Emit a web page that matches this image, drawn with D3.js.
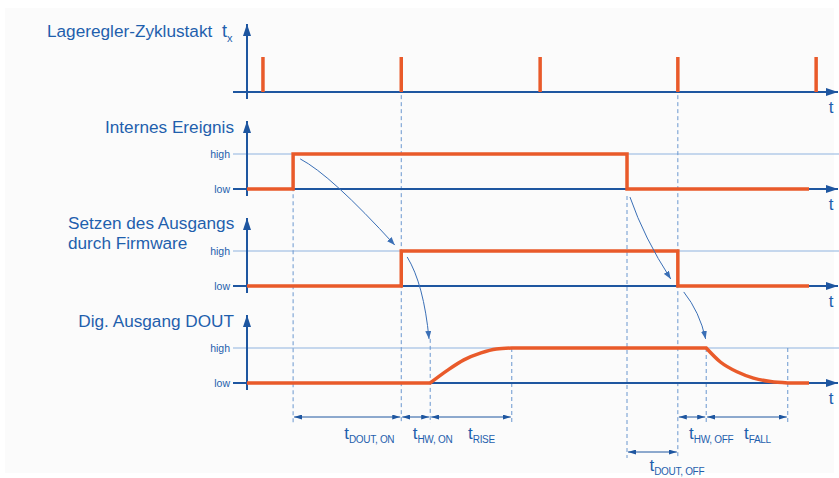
<!DOCTYPE html>
<html>
<head>
<meta charset="utf-8">
<script src="https://cdn.jsdelivr.net/npm/d3@7"></script>
<style>
  body { margin: 0; background: #fff; }
  svg { display: block; font-family: "Liberation Sans", Arial, sans-serif; }
</style>
</head>
<body>
<div id="chart"></div>
<script>
// time in arbitrary units (0..100), levels 0 = low, 1 = high
const clockPulses = [2.7, 26.1, 49.6, 72.9, 96.3];
const eventSignal = [[0, 0], [7.8, 0], [7.8, 1], [64.3, 1], [64.3, 0], [95.1, 0]];
const firmwareSignal = [[0, 0], [26.1, 0], [26.1, 1], [72.9, 1], [72.9, 0], [95.1, 0]];
const doutStart = [0, 0];
const doutRise = [[31.0, 0], [33.9, 0.36], [36.7, 0.66], [39.6, 0.86], [42.2, 0.97], [44.8, 1]];
const doutFall = [[77.7, 1], [80.1, 0.6], [82.9, 0.32], [85.7, 0.14], [88.6, 0.04], [91.5, 0]];
const doutEnd = [95.1, 0];

const panelTitles = [["Lageregler-Zyklustakt"], ["Internes Ereignis"],
  ["Setzen des Ausgangs", "durch Firmware"], ["Dig. Ausgang DOUT"]];
const levelLabels = ["low", "high"];

// dimension arrows: row 0 under DOUT, row 1 below that
const spans = [
  { from: 7.8, to: 26.1, row: 0, sub: "DOUT, ON" },
  { from: 26.1, to: 31.0, row: 0, sub: "HW, ON" },
  { from: 31.0, to: 44.8, row: 0, sub: "RISE" },
  { from: 72.9, to: 77.7, row: 0, sub: "HW, OFF" },
  { from: 77.7, to: 91.5, row: 0, sub: "FALL" },
  { from: 64.3, to: 72.9, row: 1, sub: "DOUT, OFF" }
];

// dashed guides: time, start [panel, level], end row
const guides = [
  { t: 7.8, start: [1, 0.85], row: 0 },
  { t: 26.1, start: [0, -0.09], row: 0 },
  { t: 31.0, start: [3, 1.26], row: 0 },
  { t: 44.8, start: [3, 1], row: 0 },
  { t: 64.3, start: [1, -0.2], row: 1 },
  { t: 72.9, start: [0, -0.09], row: 1 },
  { t: 77.7, start: [3, 1], row: 0 },
  { t: 91.5, start: [3, 1], row: 0 }
];

// cause -> effect arrows: [t, panel, level]
const causeArrows = [
  { a: [9.0, 1, 0.86], c: [14.2, 1, 0.4], b: [25.0, 2, 1.17] },
  { a: [27.1, 2, 0.83], c: [29.9, 2, 0.06], b: [30.8, 3, 1.26] },
  { a: [64.8, 1, -0.23], c: [67.2, 2, 1.37], b: [71.7, 2, 0.2] },
  { a: [73.9, 2, -0.17], c: [76.6, 3, 2.03], b: [77.6, 3, 1.26] }
];

const width = 839, height = 478;
const orange = "#e95a2a", axisBlue = "#1e56a0", textBlue = "#1f5fad",
  lightBlue = "#8fb4df", dashBlue = "#6a97cf", arrowBlue = "#3a6fb6";

const svg = d3.select("#chart").append("svg")
  .attr("width", width).attr("height", height);

const x = d3.scaleLinear().domain([0, 100]).range([247, 838]);
const lows = [92, 189, 286, 383];
const ys = lows.map(l => d3.scaleLinear().domain([0, 1]).range([l, l - 35]));
const rowY = [417, 452];
const py = p => ys[p[1]](p[2]);
const px = p => x(p[0]);

const defs = svg.append("defs");
function marker(id, w, h, color) {
  defs.append("marker")
    .attr("id", id)
    .attr("markerUnits", "userSpaceOnUse")
    .attr("viewBox", `0 0 ${w} ${h}`)
    .attr("markerWidth", w).attr("markerHeight", h)
    .attr("refX", w).attr("refY", h / 2)
    .attr("orient", "auto-start-reverse")
    .append("path")
    .attr("d", `M0,0L${w},${h / 2}L0,${h}Z`)
    .attr("fill", color);
}
marker("axisHead", 12, 8, axisBlue);
marker("dimHead", 8, 5, axisBlue);
marker("causeHead", 8, 6, arrowBlue);

svg.append("rect")
  .attr("x", 5).attr("y", 8).attr("width", 829).attr("height", 465)
  .attr("fill", "#fbfbfb");

// high reference lines
svg.selectAll(".high").data([1, 2, 3]).enter().append("line")
  .attr("x1", 233).attr("x2", width)
  .attr("y1", p => ys[p](1)).attr("y2", p => ys[p](1))
  .attr("stroke", lightBlue).attr("stroke-width", 1.2);

// dashed guides
svg.selectAll(".guide").data(guides).enter().append("line")
  .attr("x1", d => x(d.t)).attr("x2", d => x(d.t))
  .attr("y1", d => ys[d.start[0]](d.start[1]))
  .attr("y2", d => rowY[d.row] + 6)
  .attr("stroke", dashBlue).attr("stroke-width", 1)
  .attr("stroke-dasharray", "4,3");

// axes
lows.forEach((low, i) => {
  svg.append("line")
    .attr("x1", 233).attr("x2", x(100)).attr("y1", low).attr("y2", low)
    .attr("stroke", axisBlue).attr("stroke-width", 2)
    .attr("marker-end", "url(#axisHead)");
  svg.append("line")
    .attr("x1", x(0)).attr("x2", x(0)).attr("y1", low + 7).attr("y2", low - 68)
    .attr("stroke", axisBlue).attr("stroke-width", 2)
    .attr("marker-end", "url(#axisHead)");
  svg.append("text")
    .attr("x", 831).attr("y", low + 21)
    .attr("text-anchor", "middle")
    .attr("font-size", 17).attr("fill", textBlue)
    .text("t");
  if (i > 0) {
    svg.selectAll(null).data(levelLabels).enter().append("text")
      .attr("x", 230).attr("y", (d, k) => ys[i](k) + 4)
      .attr("text-anchor", "end")
      .attr("font-size", 10.5).attr("fill", textBlue)
      .text(d => d);
  }
});

// clock pulses
svg.selectAll(".pulse").data(clockPulses).enter().append("line")
  .attr("x1", d => x(d)).attr("x2", d => x(d))
  .attr("y1", ys[0](0)).attr("y2", ys[0](1))
  .attr("stroke", orange).attr("stroke-width", 3.5);

// step signals
const line = p => d3.line().x(d => x(d[0])).y(d => ys[p](d[1]));
[[eventSignal, 1], [firmwareSignal, 2]].forEach(([data, p]) => {
  svg.append("path")
    .attr("d", line(p)(data))
    .attr("fill", "none").attr("stroke", orange).attr("stroke-width", 3.5);
});

// DOUT with rounded rise/fall
const lin = line(3);
const smooth = line(3).curve(d3.curveMonotoneX);
const doutD = [
  lin([doutStart, doutRise[0]]),
  smooth(doutRise),
  lin([doutRise[doutRise.length - 1], doutFall[0]]),
  smooth(doutFall),
  lin([doutFall[doutFall.length - 1], doutEnd])
].map((s, i) => i ? s.replace(/^M/, "L") : s).join("");
svg.append("path")
  .attr("d", doutD)
  .attr("fill", "none").attr("stroke", orange).attr("stroke-width", 3.5);

// cause arrows
svg.selectAll(".cause").data(causeArrows).enter().append("path")
  .attr("d", d => {
    const p = d3.path();
    p.moveTo(px(d.a), py(d.a));
    p.quadraticCurveTo(px(d.c), py(d.c), px(d.b), py(d.b));
    return p.toString();
  })
  .attr("fill", "none").attr("stroke", arrowBlue).attr("stroke-width", 1)
  .attr("marker-end", "url(#causeHead)");

// dimension arrows
svg.selectAll(".dim").data(spans).enter().append("line")
  .attr("x1", d => x(d.from) + 1).attr("x2", d => x(d.to) - 1)
  .attr("y1", d => rowY[d.row]).attr("y2", d => rowY[d.row])
  .attr("stroke", axisBlue).attr("stroke-width", 1)
  .attr("marker-start", "url(#dimHead)")
  .attr("marker-end", "url(#dimHead)");

const lbl = svg.selectAll(".lbl").data(spans).enter().append("text")
  .attr("x", d => x((d.from + d.to) / 2) - 3)
  .attr("y", d => rowY[d.row] + (d.row ? 19 : 22))
  .attr("fill", textBlue);
lbl.append("tspan").attr("font-size", 17).text("t");
lbl.append("tspan").attr("font-size", 10).attr("dy", 4)
  .attr("letter-spacing", -0.3).text(d => d.sub);

// panel titles
panelTitles.forEach((lines, i) => {
  if (i === 0) {
    svg.append("text")
      .attr("font-size", 17.2).attr("fill", textBlue)
      .attr("x", 47).attr("y", 37).text(lines[0]);
  } else if (lines.length > 1) {
    svg.selectAll(null).data(lines).enter().append("text")
      .attr("font-size", 17.2).attr("fill", textBlue)
      .attr("x", 68).attr("y", (d, k) => ys[i](0) - 57 + k * 19.5)
      .text(d => d);
  } else {
    svg.append("text")
      .attr("font-size", 17.2).attr("fill", textBlue)
      .attr("x", 234).attr("y", ys[i](0) - 56)
      .attr("text-anchor", "end").text(lines[0]);
  }
});
const tx = svg.append("text").attr("x", 222).attr("y", 37).attr("fill", textBlue);
tx.append("tspan").attr("font-size", 18).text("t");
tx.append("tspan").attr("font-size", 11).attr("dy", 5).text("x");
</script>
</body>
</html>
